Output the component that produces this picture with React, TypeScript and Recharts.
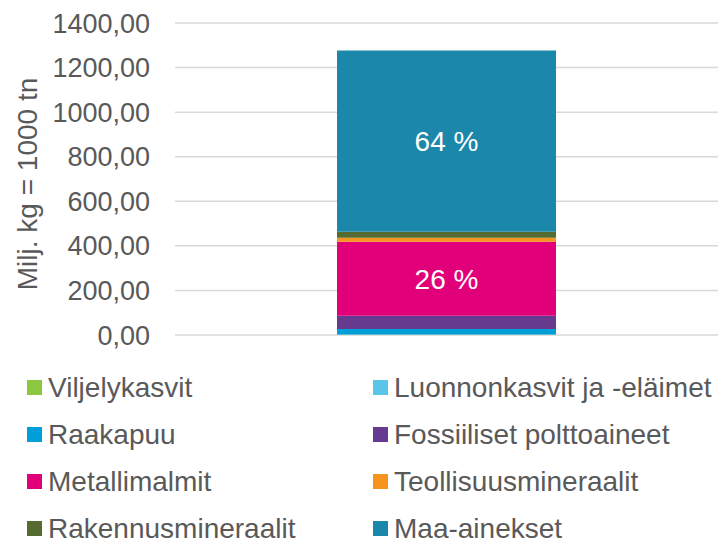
import { BarChart, Bar, XAxis, YAxis, CartesianGrid, Legend, LabelList } from "recharts";

// Material flow by category, single stacked column (Milj. kg)
const categories = ["Kotimaan otto"];
const seriesNames = [
  "Viljelykasvit",
  "Luonnonkasvit ja -eläimet",
  "Raakapuu",
  "Fossiiliset polttoaineet",
  "Metallimalmit",
  "Teollisuusmineraalit",
  "Rakennusmineraalit",
  "Maa-ainekset",
];
const seriesValues = [1.5, 1, 24, 60, 332, 18, 27, 813];
const seriesColors = [
  "#8DC63F",
  "#5BC5E8",
  "#009FDA",
  "#663A8E",
  "#E2007A",
  "#F7941D",
  "#556B2F",
  "#1B87AA",
];
// which series carry a percentage label inside the bar
const labelledSeries = ["Metallimalmit", "Maa-ainekset"];
const yTicks = [0, 200, 400, 600, 800, 1000, 1200, 1400];

const FONT = "'Liberation Sans', Arial, sans-serif";
const TEXT = "#595959";

const data = categories.map((c) => {
  const row: Record<string, string | number> = { name: c };
  seriesNames.forEach((s, i) => (row[s] = seriesValues[i]));
  return row;
});
const total = seriesValues.reduce((a, b) => a + b, 0);

const fmtTick = (v: number) => v.toFixed(2).replace(".", ",");
const fmtPct = (v: any) => `${Math.round((Number(v) / total) * 100)} %`;

function LegendBox() {
  return (
    <div
      style={{
        display: "grid",
        gridTemplateColumns: "346px 345px",
        gridAutoRows: "47px",
        paddingLeft: 27,
        paddingTop: 29,
        height: 207,
        boxSizing: "border-box",
        fontFamily: FONT,
        fontSize: 28,
        lineHeight: "26px",
        color: TEXT,
      }}
    >
      {seriesNames.map((s, i) => (
        <div key={s} style={{ display: "flex", alignItems: "center", whiteSpace: "nowrap" }}>
          <span
            style={{
              display: "inline-block",
              width: 15,
              height: 15,
              background: seriesColors[i],
              marginRight: 6,
            }}
          />
          <span>{s}</span>
        </div>
      ))}
    </div>
  );
}

function AxisTitle(props: any) {
  const vb = props.viewBox || { x: 0, y: 0, width: 0, height: 0 };
  const cx = vb.x + 27;
  const cy = vb.y + vb.height / 2 + 5;
  return (
    <text
      x={cx}
      y={cy}
      transform={`rotate(-90, ${cx}, ${cy})`}
      textAnchor="middle"
      dominantBaseline="central"
      fill={TEXT}
      fontSize={28}
      fontFamily={FONT}
    >
      Milj. kg = 1000 tn
    </text>
  );
}

export default function App() {
  return (
    <div style={{ position: "absolute", left: 0, top: 0, background: "#fff" }}>
      <BarChart
        width={718}
        height={542}
        data={data}
        margin={{ top: 23, right: 0, left: 0, bottom: 0 }}
        barSize={219}
      >
        <CartesianGrid vertical={false} stroke="#d9d9d9" strokeWidth={1.5} />
        <XAxis dataKey="name" hide />
        <YAxis
          width={175}
          domain={[0, 1400]}
          ticks={yTicks}
          tickFormatter={fmtTick}
          axisLine={false}
          tickLine={false}
          tickSize={0}
          tickMargin={25}
          tick={{ fill: TEXT, fontSize: 27, fontFamily: FONT }}
          label={<AxisTitle />}
        />
        <Legend
          verticalAlign="bottom"
          height={207}
          wrapperStyle={{ left: 0, width: 718, bottom: 0 }}
          content={() => <LegendBox />}
        />
        {seriesNames.map((s, i) => (
          <Bar key={s} dataKey={s} stackId="a" fill={seriesColors[i]} isAnimationActive={false}>
            {labelledSeries.includes(s) && (
              <LabelList
                dataKey={s}
                position="center"
                formatter={fmtPct}
                fill="#ffffff"
                fontSize={28}
                fontFamily={FONT}
              />
            )}
          </Bar>
        ))}
      </BarChart>
    </div>
  );
}
